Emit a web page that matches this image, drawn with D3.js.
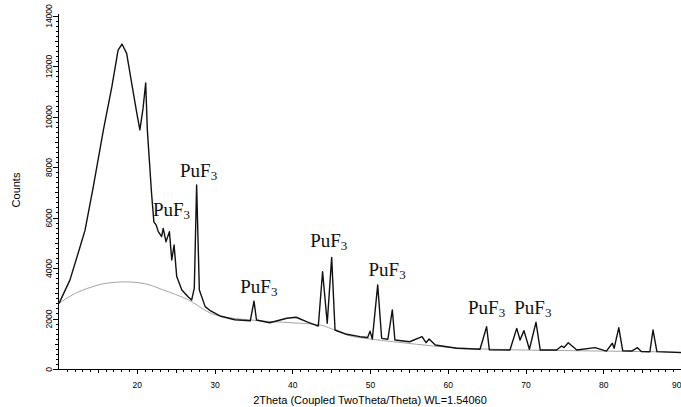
<!doctype html>
<html>
<head>
<script src="https://d3js.org/d3.v7.min.js"></script>
<style>
body { margin: 0; background: #fff; }
svg { display: block; }
.axis text { font-family: "Liberation Sans", Arial, sans-serif; font-size: 8.5px; fill: #000; }
.axis path, .axis line { stroke: #000; shape-rendering: crispEdges; }
.phase { font-family: "Liberation Serif", "Times New Roman", serif; font-size: 19px; fill: #111; }
</style>
</head>
<body>
<svg width="681" height="407"></svg>
<script>
var twoTheta = [10.0, 11.4, 12.7, 13.35, 14.4, 15.7, 16.8, 17.6, 18.1, 18.7, 19.35, 20.0, 20.4, 20.8, 21.15,
  21.36, 21.9, 22.2, 22.5, 22.77, 23.2, 23.4, 23.76, 24.2, 24.5, 24.8, 25.14, 25.8, 26.6, 27.06, 27.4,
  27.7, 28.05, 28.8, 29.5, 30.7, 32.6, 34.6, 35.08, 35.4, 37.1, 39.3, 40.5, 41.9, 43.35, 43.9, 44.5,
  45.07, 45.5, 47.0, 48.7, 49.7, 50.0, 50.3, 50.99, 51.5, 52.3, 52.87, 53.2, 55.1, 56.7, 57.2, 57.6,
  58.4, 61.15, 64.15, 65.0, 65.35, 68.0, 68.87, 69.3, 69.8, 70.5, 71.35, 71.9, 74.0, 74.65, 74.95,
  75.5, 76.6, 78.95, 80.4, 81.17, 81.4, 82.0, 82.5, 83.65, 84.4, 84.9, 86.0, 86.4, 86.9, 90.0];
var counts = [2600, 3520, 4830, 5500, 7200, 9450, 11180, 12630, 12870, 12500, 11310, 10140, 9470, 10300, 11330,
  9470, 6970, 5830, 5700, 5440, 5240, 5570, 5040, 5440, 4320, 4910, 3660, 3130, 2860, 2730, 3200,
  7290, 3130, 2470, 2300, 2100, 1950, 1910, 2690, 1940, 1830, 2010, 2050, 1870, 1700, 3850, 1810,
  4420, 1545, 1375, 1280, 1250, 1500, 1190, 3330, 1215, 1180, 2340, 1150, 1080, 1280, 1040, 1190,
  950, 820, 780, 1675, 760, 750, 1610, 1150, 1520, 780, 1850, 750, 750, 910, 850,
  1040, 750, 845, 710, 1020, 820, 1640, 725, 710, 845, 690, 685, 1545, 690, 650];

// fitted background
var bgTheta = [10.0, 12.0, 14.0, 16.0, 18.5, 21.0, 23.4, 25.0, 27.0, 28.6, 30.0, 35.0, 40.0, 43.6, 45.0, 47.0,
  50.0, 53.0, 56.0, 60.0, 65.0, 70.0, 75.0, 80.0, 85.0, 90.0];
var bgCounts = [2600, 2980, 3230, 3390, 3450, 3380, 3130, 2950, 2680, 2360, 2150, 1930, 1830, 1740, 1600, 1350,
  1190, 1080, 980, 860, 790, 750, 730, 710, 690, 670];

// phase labels
var labelText = ["PuF", "PuF", "PuF", "PuF", "PuF", "PuF", "PuF"];
var labelTheta = [27.95, 24.47, 35.7, 44.7, 52.2, 65.0, 70.94];
var labelCounts = [7600, 6060, 3020, 4840, 3680, 2180, 2180];

var xTicks = [20, 30, 40, 50, 60, 70, 80, 90];
var yTicks = [0, 2000, 4000, 6000, 8000, 10000, 12000, 14000];

var svg = d3.select("svg");

var x = d3.scaleLinear().domain([9.87, 90]).range([58, 681]);
var y = d3.scaleLinear().domain([0, 14100]).range([369, 13]);

// background curve
var bg = bgTheta.map(function (t, i) { return [t, bgCounts[i]]; });
svg.append("path")
  .datum(bg)
  .attr("fill", "none")
  .attr("stroke", "#9a9a9a")
  .attr("stroke-width", 0.9)
  .attr("d", d3.line().x(d => x(d[0])).y(d => y(d[1])).curve(d3.curveMonotoneX));

// pattern
var pts = twoTheta.map(function (t, i) { return [t, counts[i]]; });
svg.append("path")
  .datum(pts)
  .attr("fill", "none")
  .attr("stroke", "#111")
  .attr("stroke-width", 1.4)
  .attr("stroke-linejoin", "round")
  .attr("d", d3.line().x(d => x(d[0])).y(d => y(d[1])));

// x axis: minor, mid, major
var gx = svg.append("g").attr("class", "axis").attr("transform", "translate(0,369)");
gx.append("g").call(d3.axisBottom(x).tickValues(d3.range(11, 91, 1)).tickSize(3).tickSizeOuter(0).tickFormat(""));
gx.append("g").call(d3.axisBottom(x).tickValues(d3.range(15, 91, 10)).tickSize(4).tickSizeOuter(0).tickFormat(""));
gx.append("g").call(d3.axisBottom(x).tickValues(xTicks).tickSize(5).tickSizeOuter(0))
  .selectAll("text").attr("y", 13).attr("dy", "0.71em")
  .attr("text-anchor", d => d === 90 ? "end" : "middle")
  .attr("x", d => d === 90 ? 0 : null);
gx.selectAll(".domain").attr("d", "M58,0H681");

// y axis
var gy = svg.append("g").attr("class", "axis").attr("transform", "translate(58,0)");
gy.append("g").call(d3.axisLeft(y).tickValues(d3.range(0, 14101, 200)).tickSize(2.5).tickSizeOuter(0).tickFormat(""));
gy.append("g").call(d3.axisLeft(y).tickValues(d3.range(1000, 14001, 2000)).tickSize(3.5).tickSizeOuter(0).tickFormat(""));
gy.append("g").call(d3.axisLeft(y).tickValues(yTicks).tickSize(5).tickSizeOuter(0).tickFormat(d3.format("d")))
  .selectAll("text")
  .attr("x", 0).attr("dy", 0)
  .attr("text-anchor", "middle")
  .attr("transform", "translate(-6,0) rotate(-90)");

// axis titles
svg.append("text")
  .attr("transform", "translate(20,190) rotate(-90)")
  .attr("text-anchor", "middle")
  .style("font-family", "Liberation Sans, Arial, sans-serif")
  .style("font-size", "11px")
  .text("Counts");

svg.append("text")
  .attr("x", 370)
  .attr("y", 404)
  .attr("text-anchor", "middle")
  .style("font-family", "Liberation Sans, Arial, sans-serif")
  .style("font-size", "11px")
  .text("2Theta (Coupled TwoTheta/Theta) WL=1.54060");

// phase labels
labelText.forEach(function (s, i) {
  var t = svg.append("text")
    .attr("class", "phase")
    .attr("x", x(labelTheta[i]))
    .attr("y", y(labelCounts[i]))
    .attr("text-anchor", "middle");
  t.append("tspan").text(s);
  t.append("tspan").attr("dy", 3).style("font-size", "13px").text("3");
});
</script>
</body>
</html>
